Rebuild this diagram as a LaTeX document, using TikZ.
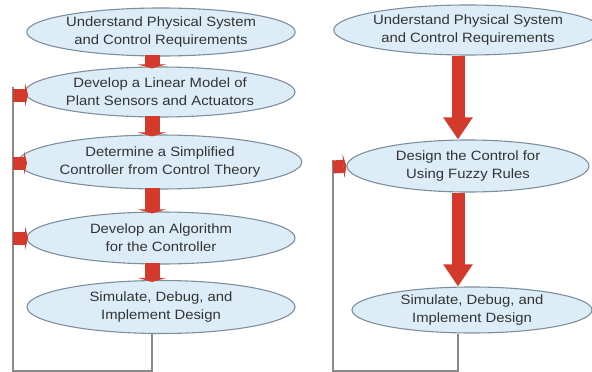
\documentclass[tikz,border=0pt]{standalone}
\usepackage{fontspec}
\setmainfont{Liberation Sans}[FakeStretch=1.1]
\usetikzlibrary{shapes.geometric,arrows.meta}
\definecolor{efill}{HTML}{DCEDF8}
\definecolor{edraw}{HTML}{7F8E9C}
\definecolor{ared}{HTML}{D43A2B}
\definecolor{txt}{HTML}{333333}
\definecolor{fbline}{HTML}{8A8A8A}
\begin{document}
\begin{tikzpicture}[x=1pt,y=-1pt,
  stepnode/.style={ellipse,draw=edraw,line width=1.1pt,fill=efill,inner sep=0pt,
    text=txt,align=center,font=\fontsize{13.5}{18}\selectfont},
  smallarr/.style={ared,line width=15pt,-{Triangle[width=28pt 0,length=4pt 0]}},
  bigarr/.style={ared,line width=13pt,-{Triangle[width=28pt 0,length=22pt 0]}},
  sidearr/.style={ared,line width=13pt,-{Triangle[width=24pt 0,length=3pt 0]}},
  fb/.style={fbline,line width=1.2pt}]
\useasboundingbox (0,0) rectangle (592,372);
% left column
\node[stepnode,minimum width=268pt,minimum height=48pt] (L1) at (161,32) {Understand Physical System\\and Control Requirements};
\node[stepnode,minimum width=270pt,minimum height=50pt] (L2) at (160,92) {Develop a Linear Model of\\Plant Sensors and Actuators};
\node[stepnode,minimum width=270pt,minimum height=54pt] (L3) at (160,162) {Determine a Simplified\\Controller from Control Theory};
\node[stepnode,minimum width=268pt,minimum height=52pt] (L4) at (161,238) {Develop an Algorithm\\for the Controller};
\node[stepnode,minimum width=268pt,minimum height=53pt] (L5) at (161,307) {Simulate, Debug, and\\Implement Design};
% right column
\node[stepnode,minimum width=242pt,minimum height=50pt] (R1) at (468,30) {Understand Physical System\\and Control Requirements};
\node[stepnode,minimum width=242pt,minimum height=52pt] (R2) at (468,166) {Design the Control for\\Using Fuzzy Rules};
\node[stepnode,minimum width=240pt,minimum height=46pt] (R3) at (472,310) {Simulate, Debug, and\\Implement Design};
% helper coordinates
\coordinate (cl) at (152,0);
\coordinate (fl) at (13,0);
\coordinate (cr) at (458,0);
\coordinate (fr) at (333,0);
\coordinate (botL) at (13,371);
\coordinate (botR) at (333,371);
% feedback lines left
\draw[fb] (cl |- L5.south) -- (cl |- botL) -- (botL) -- (fl |- 0,87);
% feedback lines right
\draw[fb] (cr |- R3.south) -- (cr |- botR) -- (botR) -- (fr |- 0,160);
% small arrows left
\draw[smallarr] ([yshift=2pt]cl |- L1.south) -- ([yshift=-2pt]cl |- L2.north);
\draw[smallarr] ([yshift=2pt]cl |- L2.south) -- ([yshift=-2pt]cl |- L3.north);
\draw[smallarr] ([yshift=2pt]cl |- L3.south) -- ([yshift=-2pt]cl |- L4.north);
\draw[smallarr] ([yshift=2pt]cl |- L4.south) -- ([yshift=-2pt]cl |- L5.north);
% side arrows left
\draw[sidearr] (fl |- 0,95) -- (28,95);
\draw[sidearr] (fl |- 0,163) -- (27,163);
\draw[sidearr] (fl |- 0,238) -- (28,238);
% big arrows right
\draw[bigarr] (cr |- R1.south) -- (cr |- R2.north);
\draw[bigarr] (cr |- R2.south) -- (cr |- R3.north);
% side arrow right
\draw[sidearr] (fr |- 0,167) -- (R2.west);
\end{tikzpicture}
\end{document}
